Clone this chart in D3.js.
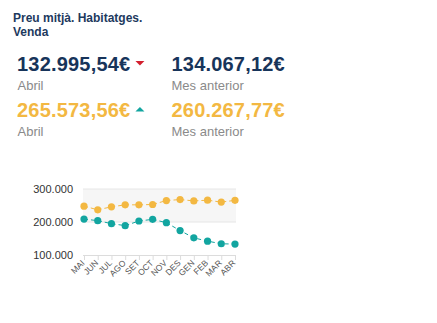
<!DOCTYPE html>
<html><head><meta charset="utf-8">
<script src="https://cdn.jsdelivr.net/npm/d3@7"></script>
<style>
html,body{margin:0;padding:0;background:#fff;}
svg{display:block;font-family:"Liberation Sans",Arial,Helvetica,sans-serif;}
</style></head>
<body>
<script>
const months = ["MAI","JUN","JUL","AGO","SET","OCT","NOV","DES","GEN","FEB","MAR","ABR"];
const seriesA = [209000,204000,195000,189000,203000,208000,198000,174000,152000,142000,134067.12,132995.54];
const seriesB = [248000,237000,246000,252000,252000,253000,265000,268000,264000,266000,260267.77,265573.56];
const yTicks = [100000,200000,300000];
const titleLines = ["Preu mitjà. Habitatges.","Venda"];
const kpis = [
  {value:"132.995,54€", label:"Abril", prev:"134.067,12€", prevLabel:"Mes anterior", dir:"down"},
  {value:"265.573,56€", label:"Abril", prev:"260.267,77€", prevLabel:"Mes anterior", dir:"up"}
];

const navy="#17345a", yellow="#f3b842", teal="#12a5a0", red="#d3202f", grey="#8a8a8a";
const rowColors=[navy,yellow];

const svg=d3.select("body").append("svg").attr("width",437).attr("height",323);

svg.append("g").selectAll("text").data(titleLines).join("text")
  .attr("x",13).attr("y",(d,i)=>22+i*13.5)
  .attr("font-size",12).attr("font-weight","bold").attr("fill","#1d3a5e").text(d=>d);

kpis.forEach((k,i)=>{
  const y0=71+i*46;
  const col=rowColors[i];
  const t=svg.append("text").attr("x",17).attr("y",y0).attr("font-size",20).attr("font-weight","bold")
    .attr("fill",col).attr("letter-spacing","0.2px").text(k.value);
  const w=t.node().getComputedTextLength();
  const tx=17+w+5, ty=y0-8;
  const tri = k.dir==="down"
    ? `M${tx},${ty-2}L${tx+9},${ty-2}L${tx+4.5},${ty+2.5}Z`
    : `M${tx},${ty+2.5}L${tx+9},${ty+2.5}L${tx+4.5},${ty-2}Z`;
  svg.append("path").attr("d",tri).attr("fill",k.dir==="down"?red:teal);
  svg.append("text").attr("x",17.5).attr("y",y0+18.5).attr("font-size",13).attr("fill",grey).text(k.label);
  svg.append("text").attr("x",171.5).attr("y",y0).attr("font-size",20).attr("font-weight","bold")
    .attr("fill",col).attr("letter-spacing","0.2px").text(k.prev);
  svg.append("text").attr("x",171.5).attr("y",y0+18.5).attr("font-size",13).attr("fill",grey).text(k.prevLabel);
});

const x=d3.scalePoint().domain(months).range([84,235]).padding(0);
const y=d3.scaleLinear().domain([100000,300000]).range([255,189]);
const left=83, right=236;

svg.append("rect").attr("x",left).attr("y",y(300000)).attr("width",right-left).attr("height",y(200000)-y(300000)).attr("fill","#f6f6f6");
svg.append("g").selectAll("line").data(yTicks.filter(d=>d>100000)).join("line")
  .attr("x1",left).attr("x2",right).attr("y1",d=>y(d)).attr("y2",d=>y(d))
  .attr("stroke","#e6e6e6").attr("stroke-width",1);
const fmt=d=>d3.format(",")(d).replace(/,/g,".");
const yAxis=svg.append("g").attr("transform",`translate(${left},0)`)
  .call(d3.axisLeft(y).tickValues(yTicks).tickFormat(fmt).tickSize(0).tickPadding(10));
yAxis.select(".domain").remove();
yAxis.selectAll("text").attr("font-size",11).attr("fill","#333").attr("font-family","Liberation Sans,Arial,sans-serif");

const xAxis=svg.append("g").attr("transform",`translate(0,${y(100000)})`)
  .call(d3.axisBottom(x).tickSize(5).tickPadding(3));
xAxis.select(".domain").attr("d",`M${left},0.5H${right}`).attr("stroke","#dcdcdc");
xAxis.selectAll(".tick line").attr("stroke","#dcdcdc");
xAxis.selectAll("text").attr("font-size",8.5).attr("fill","#555").attr("font-family","Liberation Sans,Arial,sans-serif")
  .attr("text-anchor","end").attr("dy","0.35em").attr("transform","translate(0,5) rotate(-45)").attr("x",-2).attr("y",0);

const line=d3.line().x((d,i)=>x(months[i])).y(d=>y(d));
[[seriesB,yellow],[seriesA,teal]].forEach(([data,col])=>{
  svg.append("path").datum(data).attr("d",line).attr("fill","none").attr("stroke",col)
    .attr("stroke-width",1).attr("stroke-dasharray","4,3");
  svg.append("g").selectAll("circle").data(data).join("circle")
    .attr("cx",(d,i)=>x(months[i])).attr("cy",d=>y(d)).attr("r",3.6).attr("fill",col);
});
</script>
</body></html>
